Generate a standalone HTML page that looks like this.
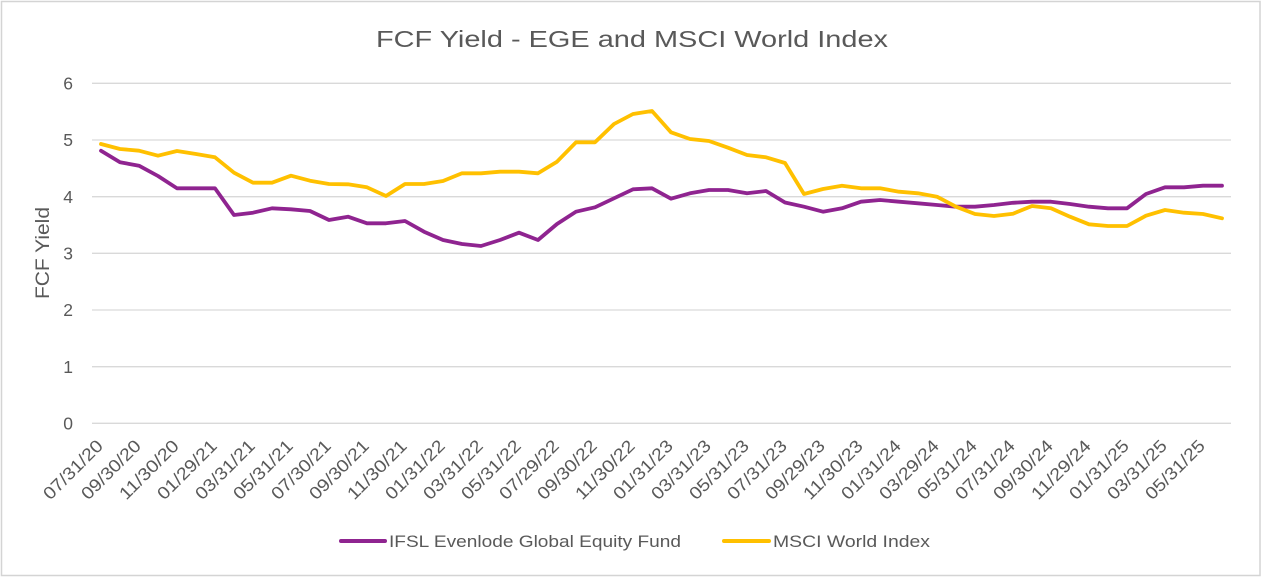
<!DOCTYPE html>
<html>
<head>
<meta charset="utf-8">
<style>
  html, body { margin: 0; padding: 0; background: #ffffff; }
  body { width: 1264px; height: 578px; overflow: hidden; }
  svg { display: block; }
  text { font-family: "Liberation Sans", "DejaVu Sans", sans-serif; fill: #595959; }
</style>
</head>
<body>
<svg width="1264" height="578" viewBox="0 0 1264 578" xmlns="http://www.w3.org/2000/svg">
  <rect x="0" y="0" width="1264" height="578" fill="#ffffff"/>
  <rect x="1.5" y="1.5" width="1258.5" height="574" fill="none" stroke="#d4d4d4" stroke-width="1.5"/>

  <!-- Title -->
  <text x="376" y="47" font-size="23" textLength="512" lengthAdjust="spacingAndGlyphs">FCF Yield - EGE and MSCI World Index</text>

  <!-- Gridlines -->
  <g stroke="#d9d9d9" stroke-width="1.3">
    <line x1="92" y1="423.3" x2="1231" y2="423.3"/>
    <line x1="92" y1="366.7" x2="1231" y2="366.7"/>
    <line x1="92" y1="310" x2="1231" y2="310"/>
    <line x1="92" y1="253.3" x2="1231" y2="253.3"/>
    <line x1="92" y1="196.7" x2="1231" y2="196.7"/>
    <line x1="92" y1="140" x2="1231" y2="140"/>
    <line x1="92" y1="83.3" x2="1231" y2="83.3"/>
  </g>

  <!-- Y labels -->
  <g font-size="17.5" text-anchor="end">
    <text x="73" y="429.5">0</text>
    <text x="73" y="372.9">1</text>
    <text x="73" y="316.2">2</text>
    <text x="73" y="259.5">3</text>
    <text x="73" y="202.9">4</text>
    <text x="73" y="146.2">5</text>
    <text x="73" y="89.5">6</text>
  </g>

  <!-- Y axis title -->
  <text x="0" y="0" font-size="19" text-anchor="middle" textLength="92" lengthAdjust="spacingAndGlyphs" transform="translate(49,253) rotate(-90)">FCF Yield</text>

  <!-- X labels -->
  <g font-size="17.5" text-anchor="end">
    <text transform="translate(104,447) rotate(-45)" textLength="76" lengthAdjust="spacingAndGlyphs">07/31/20</text>
    <text transform="translate(142,447) rotate(-45)" textLength="76" lengthAdjust="spacingAndGlyphs">09/30/20</text>
    <text transform="translate(180,447) rotate(-45)" textLength="76" lengthAdjust="spacingAndGlyphs">11/30/20</text>
    <text transform="translate(218,447) rotate(-45)" textLength="76" lengthAdjust="spacingAndGlyphs">01/29/21</text>
    <text transform="translate(256,447) rotate(-45)" textLength="76" lengthAdjust="spacingAndGlyphs">03/31/21</text>
    <text transform="translate(294,447) rotate(-45)" textLength="76" lengthAdjust="spacingAndGlyphs">05/31/21</text>
    <text transform="translate(332,447) rotate(-45)" textLength="76" lengthAdjust="spacingAndGlyphs">07/30/21</text>
    <text transform="translate(370,447) rotate(-45)" textLength="76" lengthAdjust="spacingAndGlyphs">09/30/21</text>
    <text transform="translate(408,447) rotate(-45)" textLength="76" lengthAdjust="spacingAndGlyphs">11/30/21</text>
    <text transform="translate(446,447) rotate(-45)" textLength="76" lengthAdjust="spacingAndGlyphs">01/31/22</text>
    <text transform="translate(484,447) rotate(-45)" textLength="76" lengthAdjust="spacingAndGlyphs">03/31/22</text>
    <text transform="translate(522,447) rotate(-45)" textLength="76" lengthAdjust="spacingAndGlyphs">05/31/22</text>
    <text transform="translate(560,447) rotate(-45)" textLength="76" lengthAdjust="spacingAndGlyphs">07/29/22</text>
    <text transform="translate(598,447) rotate(-45)" textLength="76" lengthAdjust="spacingAndGlyphs">09/30/22</text>
    <text transform="translate(636,447) rotate(-45)" textLength="76" lengthAdjust="spacingAndGlyphs">11/30/22</text>
    <text transform="translate(674,447) rotate(-45)" textLength="76" lengthAdjust="spacingAndGlyphs">01/31/23</text>
    <text transform="translate(712,447) rotate(-45)" textLength="76" lengthAdjust="spacingAndGlyphs">03/31/23</text>
    <text transform="translate(750,447) rotate(-45)" textLength="76" lengthAdjust="spacingAndGlyphs">05/31/23</text>
    <text transform="translate(788,447) rotate(-45)" textLength="76" lengthAdjust="spacingAndGlyphs">07/31/23</text>
    <text transform="translate(826,447) rotate(-45)" textLength="76" lengthAdjust="spacingAndGlyphs">09/29/23</text>
    <text transform="translate(864,447) rotate(-45)" textLength="76" lengthAdjust="spacingAndGlyphs">11/30/23</text>
    <text transform="translate(902,447) rotate(-45)" textLength="76" lengthAdjust="spacingAndGlyphs">01/31/24</text>
    <text transform="translate(940,447) rotate(-45)" textLength="76" lengthAdjust="spacingAndGlyphs">03/29/24</text>
    <text transform="translate(978,447) rotate(-45)" textLength="76" lengthAdjust="spacingAndGlyphs">05/31/24</text>
    <text transform="translate(1016,447) rotate(-45)" textLength="76" lengthAdjust="spacingAndGlyphs">07/31/24</text>
    <text transform="translate(1054,447) rotate(-45)" textLength="76" lengthAdjust="spacingAndGlyphs">09/30/24</text>
    <text transform="translate(1092,447) rotate(-45)" textLength="76" lengthAdjust="spacingAndGlyphs">11/29/24</text>
    <text transform="translate(1130,447) rotate(-45)" textLength="76" lengthAdjust="spacingAndGlyphs">01/31/25</text>
    <text transform="translate(1168,447) rotate(-45)" textLength="76" lengthAdjust="spacingAndGlyphs">03/31/25</text>
    <text transform="translate(1206,447) rotate(-45)" textLength="76" lengthAdjust="spacingAndGlyphs">05/31/25</text>
  </g>

  <!-- Series: IFSL Evenlode (purple) -->
  <polyline fill="none" stroke="#8f2490" stroke-width="3.8" stroke-linejoin="round" stroke-linecap="round"
    points="101,150.7 120,162.3 139,165.7 158,176 177,188.3 196,188.3 215,188.3 234,215 253,212.7 272,208.3 291,209.3 310,211 329,220 348,216.7 367,223.3 386,223.3 405,221 424,231.7 443,240 462,244 481,246 500,240 519,232.7 538,240 557,224 576,211.7 595,207.3 614,198.3 633,189.3 652,188.3 671,198.7 690,193.3 709,190 728,190 747,193.3 766,191 785,202.5 804,206.7 823,211.7 842,208.3 861,201.7 880,200 899,201.7 918,203.3 937,205 956,206.7 975,206.7 994,205 1013,202.8 1032,201.7 1051,201.7 1070,204 1089,206.7 1108,208.3 1127,208.3 1146,194 1165,187.3 1184,187.3 1203,185.7 1222,185.7"/>

  <!-- Series: MSCI World (gold) -->
  <polyline fill="none" stroke="#ffc000" stroke-width="3.8" stroke-linejoin="round" stroke-linecap="round"
    points="101,144 120,149 139,150.7 158,155.7 177,151 196,154 215,157.3 234,172.7 253,182.7 272,182.7 291,175.7 310,180.7 329,184 348,184.3 367,187.3 386,196 405,184 424,184 443,181 462,173.3 481,173.3 500,171.7 519,171.7 538,173.3 557,161.7 576,142.3 595,142.3 614,124 633,114 652,111 671,132.3 690,139 709,141 728,147.7 747,155 766,157.3 785,163 804,194 823,189 842,185.7 861,188.3 880,188.3 899,191.7 918,193.3 937,196.7 956,206.7 975,214 994,216 1013,213.7 1032,206 1051,208.3 1070,216.7 1089,224.3 1108,226 1127,226 1146,215.7 1165,210 1184,212.7 1203,214 1222,218.3"/>

  <!-- Legend -->
  <line x1="341" y1="541" x2="385" y2="541" stroke="#8f2490" stroke-width="4" stroke-linecap="round"/>
  <text x="389" y="547" font-size="17" textLength="292" lengthAdjust="spacingAndGlyphs">IFSL Evenlode Global Equity Fund</text>
  <line x1="724" y1="541" x2="769" y2="541" stroke="#ffc000" stroke-width="4" stroke-linecap="round"/>
  <text x="773" y="547" font-size="17" textLength="157" lengthAdjust="spacingAndGlyphs">MSCI World Index</text>
</svg>
</body>
</html>
